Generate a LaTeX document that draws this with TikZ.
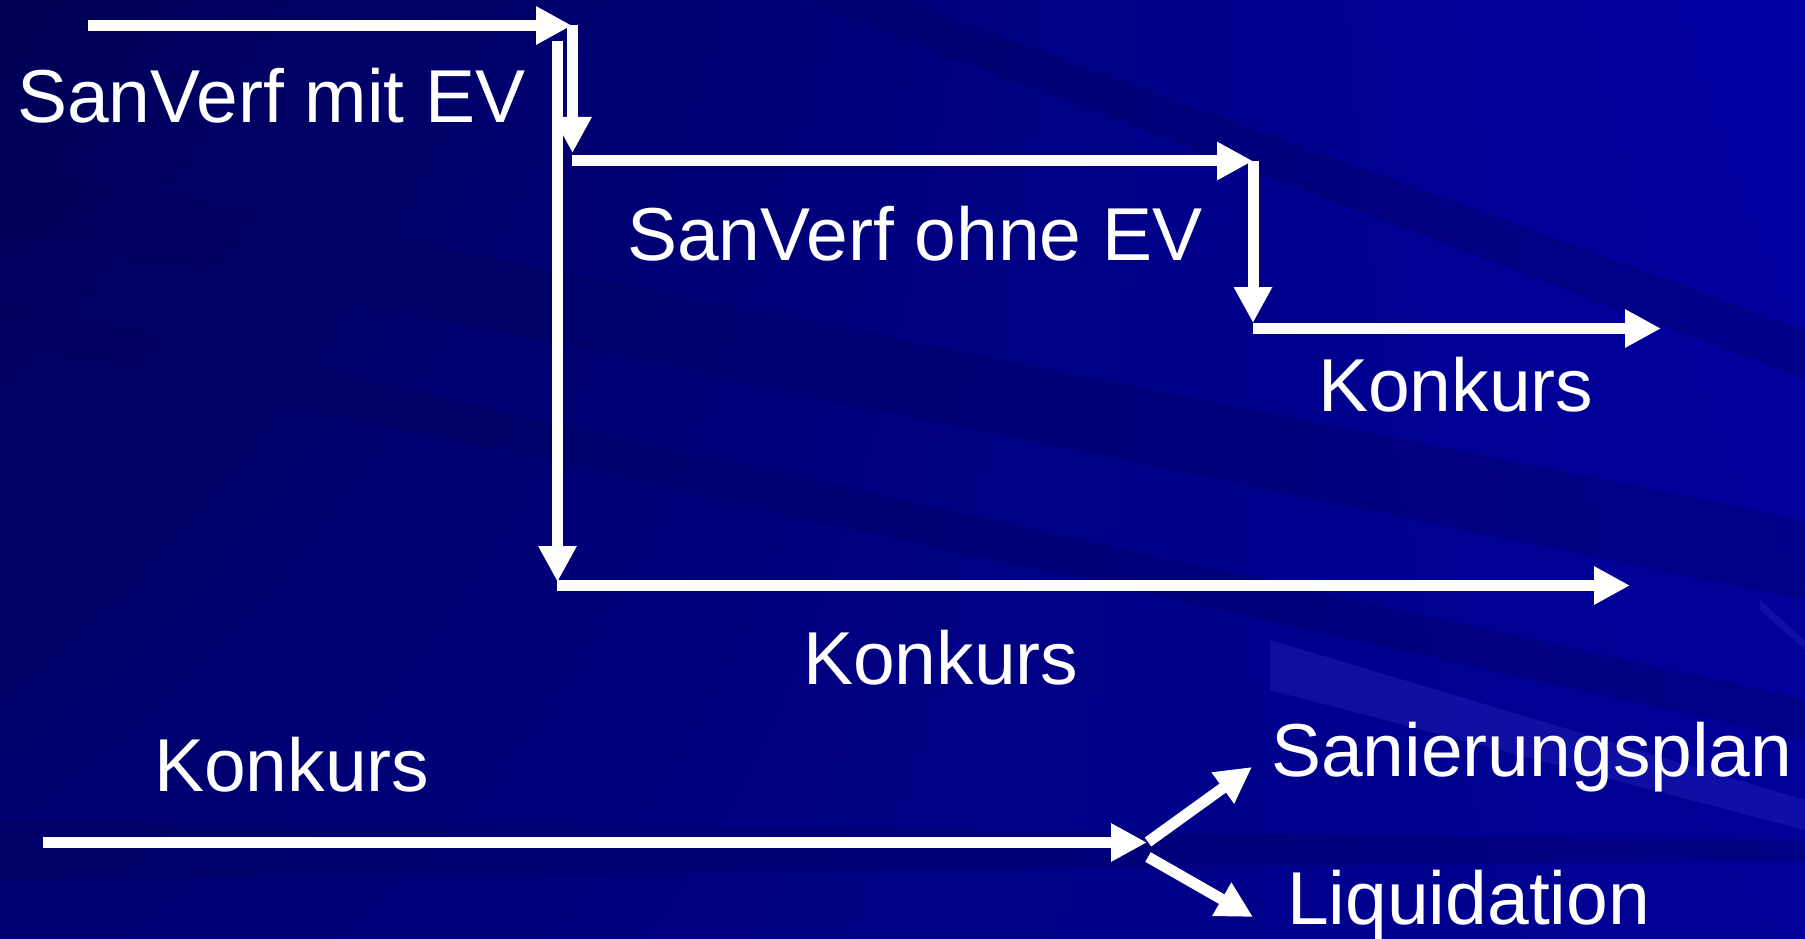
\documentclass[tikz,border=0pt]{standalone}
\usepackage{fontspec}
\setmainfont{Liberation Sans}
\usetikzlibrary{arrows.meta,shadings}
\definecolor{bgul}{RGB}{0,0,85}
\definecolor{bgur}{RGB}{0,0,165}
\definecolor{bgll}{RGB}{0,0,115}
\definecolor{bglr}{RGB}{0,0,150}
\definecolor{raylight}{RGB}{50,50,200}
\definecolor{raydark}{RGB}{0,0,90}
\begin{document}
\begin{tikzpicture}[x=1pt,y=-1pt,
  flow/.style={draw=white,line width=11pt,-{Triangle[length=36pt,width=36pt]}},
  label/.style={text=white,font=\fontsize{75}{90}\selectfont,inner sep=0pt,anchor=base west}]
% background
\useasboundingbox (0,0) rectangle (1805,939);
\shade[upper left=bgul,upper right=bgur,lower left=bgll,lower right=bglr] (0,0) rectangle (1805,939);
\begin{scope}[opacity=0.3]
\fill[raydark] (0,160) -- (1805,520) -- (1805,600) -- (0,230) -- cycle;
\fill[raydark] (0,300) -- (1805,700) -- (1805,740) -- (0,340) -- cycle;
\fill[raydark] (0,820) -- (1805,840) -- (1805,860) -- (0,880) -- cycle;
\fill[raydark] (900,0) -- (1805,330) -- (1805,380) -- (800,0) -- cycle;
\fill[raylight] (1270,640) -- (1805,800) -- (1805,830) -- (1270,690) -- cycle;
\fill[raylight] (1760,600) -- (1805,640) -- (1805,650) -- (1760,610) -- cycle;
\end{scope}
% coordinates
\coordinate (a0) at (88,25.5);
\coordinate (a1) at (572,25.5);
\coordinate (b0) at (572.5,25);
\coordinate (b1) at (572.5,153);
\coordinate (c0) at (572,161);
\coordinate (c1) at (1253,161);
\coordinate (d0) at (1253,161);
\coordinate (d1) at (1253,323);
\coordinate (e0) at (1253,328.5);
\coordinate (e1) at (1661,328.5);
\coordinate (f0) at (557.5,41);
\coordinate (f1) at (557.5,582);
\coordinate (g0) at (557,585.5);
\coordinate (g1) at (1630,585.5);
\coordinate (h0) at (43,842.5);
\coordinate (h1) at (1147,842.5);
\coordinate (i0) at (1148,842);
\coordinate (i1) at (1252,767);
\coordinate (j0) at (1148,857);
\coordinate (j1) at (1253,917);
% connectors
\draw[flow] (a0) -- (a1);
\draw[flow] (b0) -- (b1);
\draw[flow] (c0) -- (c1);
\draw[flow] (d0) -- (d1);
\draw[flow] (e0) -- (e1);
\draw[flow] (f0) -- (f1);
\draw[flow] (g0) -- (g1);
\draw[flow] (h0) -- (h1);
\draw[flow] (i0) -- (i1);
\draw[flow] (j0) -- (j1);
% labels
\node[label] (t1) at (17,123) {SanVerf mit EV};
\node[label] (t2) at (627,260) {SanVerf ohne EV};
\node[label] (t3) at (1318,411) {Konkurs};
\node[label] (t4) at (803,684) {Konkurs};
\node[label] (t5) at (154,791) {Konkurs};
\node[label] (t6) at (1271,776) {Sanierungsplan};
\node[label] (t7) at (1287,924) {Liquidation};
\end{tikzpicture}
\end{document}
